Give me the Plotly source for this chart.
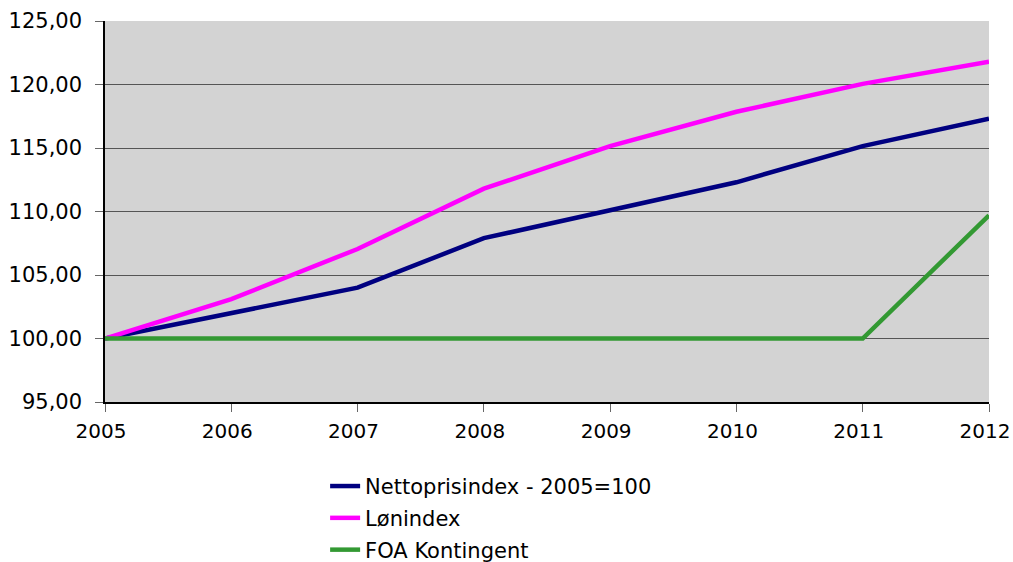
import plotly.graph_objects as go

years = [2005, 2006, 2007, 2008, 2009, 2010, 2011, 2012]
netto = [100.0, 102.0, 104.0, 107.9, 110.1, 112.3, 115.15, 117.3]
loen = [100.0, 103.1, 107.05, 111.8, 115.15, 117.85, 120.05, 121.8]
foa = [100.0, 100.0, 100.0, 100.0, 100.0, 100.0, 100.0, 109.7]

names = ["Nettoprisindex - 2005=100", "Lønindex", "FOA Kontingent"]
colors = ["#000080", "#FF00FF", "#339933"]

fig = go.Figure()
for i, (name, vals, col) in enumerate(zip(names, [netto, loen, foa], colors)):
    fig.add_trace(go.Scatter(x=years, y=vals, name=name, mode="lines",
                             legendgroup=f"g{i}",
                             line=dict(color=col, width=4.5)))

font = "DejaVu Sans, Verdana, sans-serif"
fig.update_layout(
    width=1013, height=562,
    margin=dict(l=105, r=24, t=21, b=160),
    paper_bgcolor="white",
    plot_bgcolor="#D3D3D3",
    separators=",.",
    font=dict(family=font, size=21, color="black"),
    showlegend=True,
    legend=dict(xref="paper", yref="container", x=0.249, y=0.171,
                xanchor="left", yanchor="top",
                orientation="v", font=dict(size=21), bgcolor="rgba(0,0,0,0)",
                tracegroupgap=1.5, itemwidth=30),
    xaxis=dict(range=[2005, 2012], dtick=1, tick0=2005, tickformat="d",
               showgrid=False, zeroline=False, showline=True, linecolor="black",
               linewidth=1.5, ticks="outside", ticklen=8, tickcolor="#666666",
               ticklabeloverflow="allow", ticklabelstandoff=2, ticklabelshift=-4,
               automargin=False, tickfont=dict(size=20)),
    yaxis=dict(range=[95, 125], dtick=5, tickformat=".2f",
               showgrid=True, gridcolor="#555555", gridwidth=1.2, zeroline=False,
               showline=True, linecolor="black", linewidth=1.5,
               ticks="outside", ticklen=8, tickcolor="#666666",
               ticklabeloverflow="allow", ticklabelstandoff=9, automargin=False,
               tickfont=dict(size=21)),
)

fig.write_html("out.html", config={"displayModeBar": False},
               post_script="document.body.style.margin='0';")
